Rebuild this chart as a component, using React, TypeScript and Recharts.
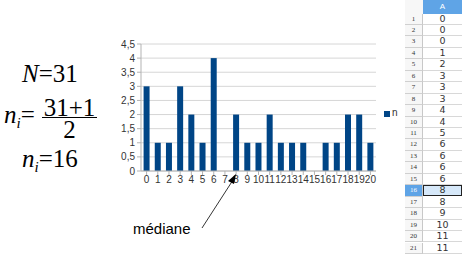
import { BarChart, Bar, XAxis, YAxis, CartesianGrid } from "recharts"

const categories = ["0", "1", "2", "3", "4", "5", "6", "7", "8", "9", "10", "11", "12", "13", "14", "15", "16", "17", "18", "19", "20"]
const counts = [3, 1, 1, 3, 2, 1, 4, 0, 2, 1, 1, 2, 1, 1, 1, 0, 1, 1, 2, 2, 1]
const yTicks = [0, 0.5, 1, 1.5, 2, 2.5, 3, 3.5, 4, 4.5]
const sheetRows = [1, 2, 3, 4, 5, 6, 7, 8, 9, 10, 11, 12, 13, 14, 15, 16, 17, 18, 19, 20, 21]
const sheetValues = [0, 0, 0, 1, 2, 3, 3, 3, 4, 4, 5, 6, 6, 6, 6, 8, 8, 9, 10, 11, 11]
const selectedRow = 16

const data = categories.map((c, i) => ({ name: c, n: counts[i] }))

const serif = "'Liberation Serif', 'DejaVu Serif', serif"
const sans = "'Liberation Sans', Arial, sans-serif"

function Formula() {
  const base: React.CSSProperties = { position: "absolute", fontFamily: serif, fontSize: 25, lineHeight: "18px", color: "#000", whiteSpace: "nowrap" }
  const frac: React.CSSProperties = { ...base, lineHeight: "14px", width: 55, textAlign: "center" }
  const ni = (
    <span>
      <i>n</i>
      <i style={{ fontSize: 15, position: "relative", top: 5 }}>i</i>
    </span>
  )
  return (
    <>
      <div style={{ ...base, left: 22, top: 65 }}>
        <i>N</i>=31
      </div>
      <div style={{ ...base, left: 4, top: 106 }}>{ni}=</div>
      {/* fraction: baseline ~115 and ~137 */}
      <div style={{ ...frac, left: 42, top: 100.5 }}>31+1</div>
      <div style={{ position: "absolute", left: 42, top: 116.5, width: 55, height: 1.5, background: "#000" }} />
      <div style={{ ...frac, left: 42, top: 122.5 }}>2</div>
      <div style={{ ...base, left: 22, top: 150 }}>
        {ni}=16
      </div>
    </>
  )
}

function Sheet() {
  const top = 13.5
  const rowH = 11.45
  return (
    <div style={{ position: "absolute", left: 405, top: 0, width: 57, height: 259 }}>
      <div style={{ position: "absolute", left: 0, top: 0, width: 18, height: top, background: "#f7f7f7", borderRight: "1px solid #c8c8c8" }} />
      <div style={{ position: "absolute", left: 18, top: 0, width: 39, height: top, background: "#5fa4e6", color: "#fff", fontFamily: sans, fontSize: 8, textAlign: "center", lineHeight: `${top}px` }}>A</div>
      {sheetRows.map((r, i) => {
        const sel = r === selectedRow
        return (
          <div key={r}>
            <div
              style={{
                position: "absolute", left: 0, top: top + i * rowH, width: 17, height: rowH - 1,
                background: sel ? "#5fa4e6" : "#f7f7f7", color: sel ? "#fff" : "#333",
                borderBottom: "1px solid #d0d0d0", borderRight: "1px solid #c8c8c8",
                fontFamily: serif, fontSize: 7, lineHeight: `${rowH - 1}px`, textAlign: "center",
              }}
            >
              {r}
            </div>
            <div
              style={{
                position: "absolute", left: 18, top: top + i * rowH, width: sel ? 37 : 39, height: sel ? rowH - 3 : rowH - 1,
                background: sel ? "#d6e8f9" : "#fff",
                border: sel ? "1px solid #222" : undefined,
                borderBottom: sel ? "1px solid #222" : "1px solid #d8d8d8",
                color: "#333", fontFamily: "'DejaVu Sans', sans-serif", fontSize: 9.5,
                lineHeight: `${sel ? rowH - 3 : rowH - 1}px`, textAlign: "center",
              }}
            >
              {sheetValues[i]}
            </div>
          </div>
        )
      })}
    </div>
  )
}

function Arrow() {
  return (
    <svg width={462} height={259} style={{ position: "absolute", left: 0, top: 0, pointerEvents: "none" }}>
      <line x1={202} y1={228} x2={233} y2={180} stroke="#000" strokeWidth={0.8} />
      <polygon points="236,174 228,181 234,184" fill="#000" />
      <text x={133} y={234} fontFamily={sans} fontSize={15} fill="#000">médiane</text>
    </svg>
  )
}

export default function App() {
  return (
    <div style={{ position: "fixed", left: 0, top: 0, width: 462, height: 259, background: "#fff", overflow: "hidden" }}>
      <Formula />
      <div style={{ position: "absolute", left: 0, top: 0 }}>
        <BarChart width={462} height={259} data={data} margin={{ top: 44, right: 86, left: 111, bottom: 68 }} barCategoryGap="23%">
          <CartesianGrid vertical={false} stroke="#d6d6d6" />
          <XAxis
            dataKey="name"
            interval={0}
            height={20}
            tickSize={4}
            tickMargin={1}
            stroke="#b3b3b3"
            tick={{ fill: "#333", fontSize: 10, fontFamily: sans }}
          />
          <YAxis
            domain={[0, 4.5]}
            ticks={yTicks}
            interval={0}
            width={30}
            tickSize={4}
            tickMargin={2}
            stroke="#b3b3b3"
            tickFormatter={(v) => String(v).replace(".", ",")}
            tick={{ fill: "#333", fontSize: 10, fontFamily: sans }}
          />
          <YAxis yAxisId="r" orientation="right" width={0} domain={[0, 4.5]} ticks={[]} tick={false} tickLine={false} stroke="#d6d6d6" />
          <Bar dataKey="n" fill="#004586" isAnimationActive={false} />
        </BarChart>
      </div>
      <div style={{ position: "absolute", left: 384, top: 111, width: 6, height: 6, background: "#004586" }} />
      <div style={{ position: "absolute", left: 392, top: 107, fontFamily: sans, fontSize: 10, color: "#333", lineHeight: "12px" }}>n</div>
      <Arrow />
      <Sheet />
    </div>
  )
}
